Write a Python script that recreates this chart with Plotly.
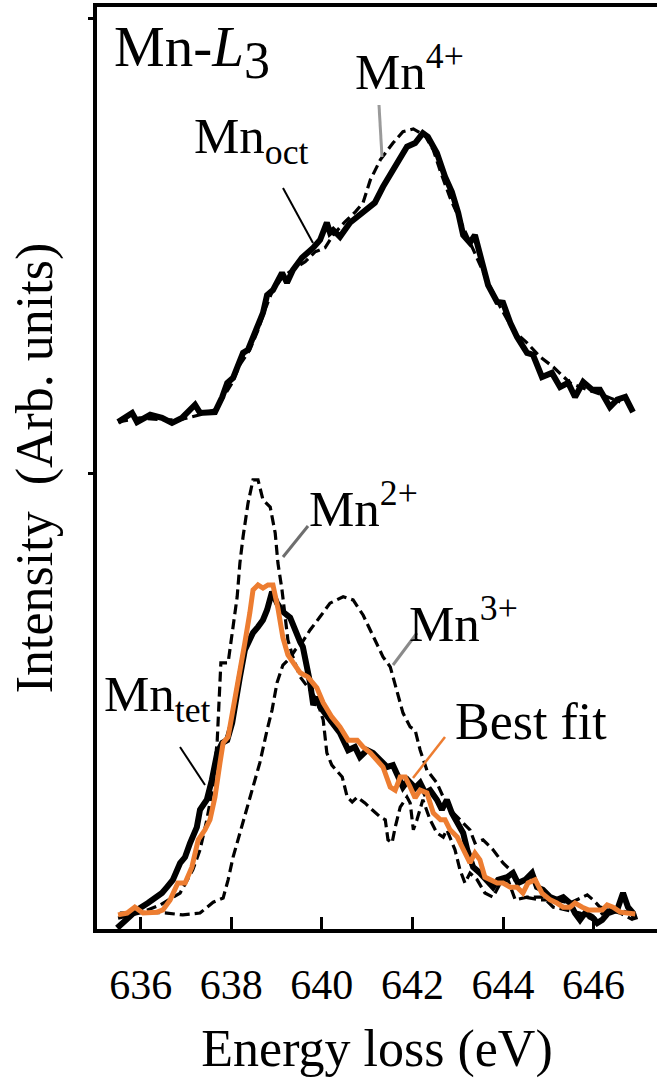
import plotly.graph_objects as go

# ---------------- data (energy loss in eV, intensity in arb. units) ----------------
oct_x = [635.50, 635.81, 635.92, 636.21, 636.47, 636.69, 636.91, 637.20, 637.31, 637.64,
         637.80, 637.91, 638.04, 638.26, 638.37, 638.52, 638.70, 638.79, 638.92, 639.12,
         639.23, 639.36, 639.56, 639.81, 639.96, 640.11, 640.18, 640.25, 640.40, 640.62,
         640.91, 641.17, 641.35, 641.66, 641.88, 642.06, 642.23, 642.34, 642.54, 642.72,
         642.87, 643.01, 643.12, 643.27, 643.38, 643.54, 643.67, 643.87, 644.00, 644.16,
         644.31, 644.53, 644.66, 644.86, 645.08, 645.26, 645.44, 645.59, 645.77, 645.97,
         646.14, 646.36, 646.52, 646.70, 646.87]
oct_y = [1.114, 1.134, 1.114, 1.130, 1.123, 1.112, 1.123, 1.152, 1.134, 1.136,
         1.169, 1.200, 1.211, 1.266, 1.273, 1.310, 1.354, 1.393, 1.404, 1.442,
         1.420, 1.448, 1.475, 1.497, 1.514, 1.552, 1.530, 1.536, 1.521, 1.552,
         1.574, 1.596, 1.631, 1.684, 1.719, 1.727, 1.749, 1.741, 1.705, 1.653,
         1.620, 1.574, 1.525, 1.508, 1.525, 1.464, 1.415, 1.378, 1.376, 1.332,
         1.301, 1.266, 1.262, 1.213, 1.222, 1.191, 1.200, 1.169, 1.202, 1.185,
         1.185, 1.147, 1.163, 1.169, 1.136]

mn4_x = [635.50, 635.98, 636.43, 636.87, 637.31, 637.64, 637.86, 638.02, 638.19, 638.41,
         638.59, 638.74, 638.90, 639.12, 639.34, 639.63, 639.85, 640.07, 640.25, 640.51,
         640.74, 640.91, 641.07, 641.29, 641.57, 641.79, 642.02, 642.28, 642.46, 642.62,
         642.83, 643.05, 643.27, 643.45, 643.67, 643.94, 644.22, 644.53, 644.82, 645.11,
         645.48, 645.86, 646.19, 646.59]
mn4_y = [1.114, 1.123, 1.119, 1.119, 1.130, 1.141, 1.174, 1.200, 1.240, 1.273,
         1.316, 1.360, 1.400, 1.431, 1.448, 1.466, 1.488, 1.497, 1.525, 1.554,
         1.576, 1.596, 1.646, 1.690, 1.727, 1.752, 1.758, 1.743, 1.712, 1.664,
         1.607, 1.558, 1.508, 1.470, 1.420, 1.367, 1.316, 1.288, 1.257, 1.235,
         1.200, 1.185, 1.174, 1.158]

tet_x = [635.48, 635.76, 635.92, 636.16, 636.27, 636.47, 636.58, 636.71, 636.87, 636.98,
         637.09, 637.24, 637.31, 637.46, 637.57, 637.69, 637.80, 637.91, 638.02, 638.08,
         638.19, 638.30, 638.37, 638.48, 638.59, 638.70, 638.79, 638.90, 639.01, 639.14,
         639.30, 639.41, 639.52, 639.58, 639.67, 639.74, 639.81, 639.89, 639.96, 640.07,
         640.25, 640.40, 640.58, 640.73, 640.84, 641.00, 641.13, 641.29, 641.44, 641.57,
         641.68, 641.79, 641.90, 642.06, 642.17, 642.28, 642.39, 642.54, 642.65, 642.76,
         642.87, 642.99, 643.12, 643.21, 643.34, 643.49, 643.65, 643.78, 643.89, 644.09,
         644.22, 644.33, 644.49, 644.64, 644.75, 644.88, 645.04, 645.19, 645.33, 645.48,
         645.59, 645.70, 645.81, 645.97, 646.08, 646.19, 646.32, 646.52, 646.65, 646.76,
         646.87, 646.92]
tet_y = [0.002, 0.026, 0.042, 0.057, 0.064, 0.079, 0.092, 0.108, 0.145, 0.158,
         0.189, 0.224, 0.262, 0.284, 0.327, 0.387, 0.409, 0.415, 0.453, 0.497,
         0.554, 0.613, 0.629, 0.651, 0.664, 0.679, 0.701, 0.741, 0.716, 0.697,
         0.684, 0.653, 0.631, 0.620, 0.580, 0.541, 0.492, 0.510, 0.488, 0.475,
         0.453, 0.431, 0.393, 0.400, 0.378, 0.393, 0.387, 0.371, 0.356, 0.360,
         0.334, 0.312, 0.327, 0.310, 0.321, 0.299, 0.305, 0.284, 0.262, 0.284,
         0.255, 0.233, 0.211, 0.174, 0.136, 0.123, 0.108, 0.092, 0.108, 0.114,
         0.123, 0.101, 0.108, 0.123, 0.092, 0.086, 0.070, 0.064, 0.070, 0.057,
         0.035, 0.020, 0.035, 0.026, 0.013, 0.020, 0.035, 0.042, 0.079, 0.048,
         0.035, 0.020]

fit_x = [635.50, 635.70, 635.87, 636.05, 636.36, 636.49, 636.65, 636.82, 636.98, 637.13,
         637.27, 637.42, 637.53, 637.64, 637.75, 637.82, 637.93, 638.04, 638.19, 638.30,
         638.41, 638.48, 638.59, 638.70, 638.81, 638.92, 639.03, 639.14, 639.25, 639.36,
         639.52, 639.69, 639.89, 640.03, 640.22, 640.40, 640.58, 640.78, 640.91, 641.07,
         641.22, 641.35, 641.51, 641.62, 641.73, 641.84, 641.95, 642.06, 642.17, 642.32,
         642.46, 642.62, 642.72, 642.83, 642.99, 643.10, 643.21, 643.27, 643.38, 643.49,
         643.60, 643.71, 643.87, 644.00, 644.16, 644.31, 644.44, 644.55, 644.71, 644.86,
         645.04, 645.19, 645.33, 645.48, 645.59, 645.75, 645.88, 646.03, 646.19, 646.30,
         646.43, 646.59, 646.74, 646.92]
fit_y = [0.031, 0.035, 0.048, 0.035, 0.037, 0.042, 0.064, 0.101, 0.101, 0.136,
         0.196, 0.218, 0.240, 0.290, 0.365, 0.409, 0.422, 0.481, 0.569, 0.629,
         0.695, 0.745, 0.756, 0.749, 0.756, 0.756, 0.705, 0.640, 0.602, 0.587,
         0.563, 0.554, 0.530, 0.497, 0.466, 0.444, 0.415, 0.415, 0.400, 0.387,
         0.371, 0.356, 0.312, 0.305, 0.334, 0.334, 0.312, 0.288, 0.305, 0.299,
         0.255, 0.240, 0.240, 0.218, 0.202, 0.180, 0.152, 0.145, 0.167, 0.152,
         0.114, 0.108, 0.101, 0.101, 0.092, 0.092, 0.079, 0.101, 0.108, 0.079,
         0.064, 0.057, 0.048, 0.048, 0.057, 0.048, 0.042, 0.042, 0.042, 0.053,
         0.048, 0.037, 0.035, 0.033]

mn2_x = [635.50, 635.98, 636.43, 636.87, 637.15, 637.31, 637.46, 637.60, 637.69, 637.73,
         637.77, 637.93, 638.04, 638.13, 638.19, 638.26, 638.37, 638.48, 638.59, 638.70,
         638.86, 638.97, 639.03, 639.12, 639.19, 639.25, 639.36, 639.52, 639.74, 639.89,
         640.03, 640.11, 640.22, 640.45, 640.56, 640.67, 640.78, 640.95, 641.11, 641.29,
         641.40, 641.46, 641.55, 641.62, 641.73, 641.88, 641.95, 642.02, 642.10, 642.23,
         642.39, 642.54, 642.68, 642.76, 642.94, 643.05, 643.16, 643.27, 643.43, 643.60,
         643.78, 643.94, 644.11, 644.27, 644.53, 644.88, 645.11, 645.41, 645.70, 645.99,
         646.30, 646.59, 646.87]
mn2_y = [0.024, 0.035, 0.053, 0.079, 0.130, 0.174, 0.240, 0.316, 0.415, 0.503,
         0.585, 0.585, 0.664, 0.730, 0.804, 0.862, 0.936, 0.987, 0.987, 0.943,
         0.927, 0.870, 0.804, 0.745, 0.686, 0.635, 0.598, 0.554, 0.525, 0.503,
         0.459, 0.387, 0.360, 0.334, 0.290, 0.279, 0.290, 0.277, 0.262, 0.246,
         0.240, 0.196, 0.189, 0.224, 0.268, 0.290, 0.277, 0.218, 0.240, 0.284,
         0.240, 0.211, 0.202, 0.218, 0.174, 0.130, 0.101, 0.123, 0.108, 0.079,
         0.070, 0.101, 0.108, 0.064, 0.070, 0.070, 0.048, 0.042, 0.035, 0.020,
         0.042, 0.035, 0.020]

mn3_x = [635.54, 636.14, 636.58, 636.93, 637.31, 637.60, 637.82, 637.93, 638.04, 638.19,
         638.35, 638.48, 638.63, 638.79, 638.90, 639.01, 639.14, 639.30, 639.41, 639.56,
         639.74, 639.96, 640.18, 640.47, 640.69, 640.91, 641.13, 641.35, 641.51, 641.66,
         641.79, 641.95, 642.06, 642.17, 642.32, 642.54, 642.68, 642.90, 643.05, 643.27,
         643.38, 643.56, 643.78, 644.00, 644.16, 644.33, 644.49, 644.82, 645.15, 645.48,
         645.86, 645.99, 646.14, 646.52, 646.87]
mn3_y = [0.035, 0.037, 0.035, 0.031, 0.035, 0.059, 0.068, 0.108, 0.158, 0.211,
         0.268, 0.312, 0.365, 0.437, 0.481, 0.541, 0.580, 0.596, 0.613, 0.629,
         0.657, 0.686, 0.716, 0.730, 0.723, 0.690, 0.642, 0.598, 0.576, 0.525,
         0.475, 0.444, 0.437, 0.393, 0.349, 0.321, 0.290, 0.255, 0.240, 0.218,
         0.189, 0.196, 0.174, 0.145, 0.130, 0.092, 0.070, 0.064, 0.064, 0.057,
         0.075, 0.064, 0.048, 0.042, 0.035]

x_ticks = [636, 638, 640, 642, 644, 646]
x_tick_labels = ["636", "638", "640", "642", "644", "646"]

# ---------------- layout helpers ----------------
W, H = 657, 1078
L, R, T, B = 97, 0, 7, 149
FONT = "Liberation Serif, Times New Roman, serif"
ORANGE = "#ED7D31"


def fx(p):  # pixel x -> paper
    return (p - L) / (W - L - R)


def fy(p):  # pixel y -> paper
    return (H - B - p) / (H - T - B)


fig = go.Figure()

dash_style = dict(color="black", width=3.2, dash="10px,5px")

fig.add_trace(go.Scatter(x=mn4_x, y=mn4_y, mode="lines", line=dash_style, name="Mn4+"))
fig.add_trace(go.Scatter(x=oct_x, y=oct_y, mode="lines",
                         line=dict(color="black", width=6), name="Mn oct"))
fig.add_trace(go.Scatter(x=mn2_x, y=mn2_y, mode="lines", line=dash_style, name="Mn2+"))
fig.add_trace(go.Scatter(x=mn3_x, y=mn3_y, mode="lines", line=dash_style, name="Mn3+"))
fig.add_trace(go.Scatter(x=tet_x, y=tet_y, mode="lines",
                         line=dict(color="black", width=6), name="Mn tet"))
fig.add_trace(go.Scatter(x=fit_x, y=fit_y, mode="lines",
                         line=dict(color=ORANGE, width=5), name="Best fit"))

# annotations (text labels): text, left px, centre px, font size
labels = [
    ("Mn-<i>L</i><sub><span style='font-size:52px'>3</span></sub>", 112, 52, 57),
    ("Mn<sub>oct</sub>", 192, 140, 51),
    ("Mn<sup>4+</sup>", 353, 68, 51),
    ("Mn<sup>2+</sup>", 307, 505, 51),
    ("Mn<sup>3+</sup>", 407, 620, 51),
    ("Mn<sub>tet</sub>", 102, 698, 51),
    ("Best fit", 453, 721, 52),
]
for txt, lx, ly, fs in labels:
    fig.add_annotation(text=txt, x=fx(lx), y=fy(ly), xref="paper", yref="paper",
                       xanchor="left", yanchor="middle", showarrow=False,
                       font=dict(family=FONT, size=fs, color="black"))

# leader lines
leaders = [
    ((283, 188), (313, 243), "black", 2),
    ((379, 105), (382, 157), "#9a9a9a", 3),
    ((308, 526), (283, 557), "#6e6e6e", 3),
    ((417, 633), (393, 665), "#8a8a8a", 3),
    ((180, 747), (205, 785), "black", 2),
    ((445, 737), (413, 778), ORANGE, 2.5),
]
for (x0, y0), (x1, y1), col, wd in leaders:
    fig.add_shape(type="line", xref="paper", yref="paper",
                  x0=fx(x0), y0=fy(y0), x1=fx(x1), y1=fy(y1),
                  line=dict(color=col, width=wd))

fig.update_layout(
    width=W, height=H,
    margin=dict(l=L, r=R, t=T, b=B, pad=0),
    paper_bgcolor="white", plot_bgcolor="white",
    showlegend=False,
    font=dict(family=FONT, color="black"),
    xaxis=dict(
        range=[635.035, 647.40], showgrid=False, zeroline=False,
        showline=True, linecolor="black", linewidth=4, mirror=True,
        ticks="inside", ticklen=12, tickwidth=3, tickcolor="black",
        tickvals=x_ticks, ticktext=x_tick_labels,
        tickfont=dict(family=FONT, size=42, color="black"),
        ticklabelstandoff=16,
        title=dict(text="Energy loss (eV)", font=dict(family=FONT, size=52, color="black"),
                   standoff=26),
        automargin=False,
    ),
    yaxis=dict(
        range=[0, 2.026], showgrid=False, zeroline=False,
        showline=True, linecolor="black", linewidth=4, mirror=False,
        ticks="outside", ticklen=5, tickwidth=3, tickcolor="black",
        tickvals=[1, 2], showticklabels=False,
        title=dict(text="Intensity  (Arb. units)", font=dict(family=FONT, size=52, color="black"),
                   standoff=20),
        automargin=False,
    ),
)

fig.write_html("out.html")
